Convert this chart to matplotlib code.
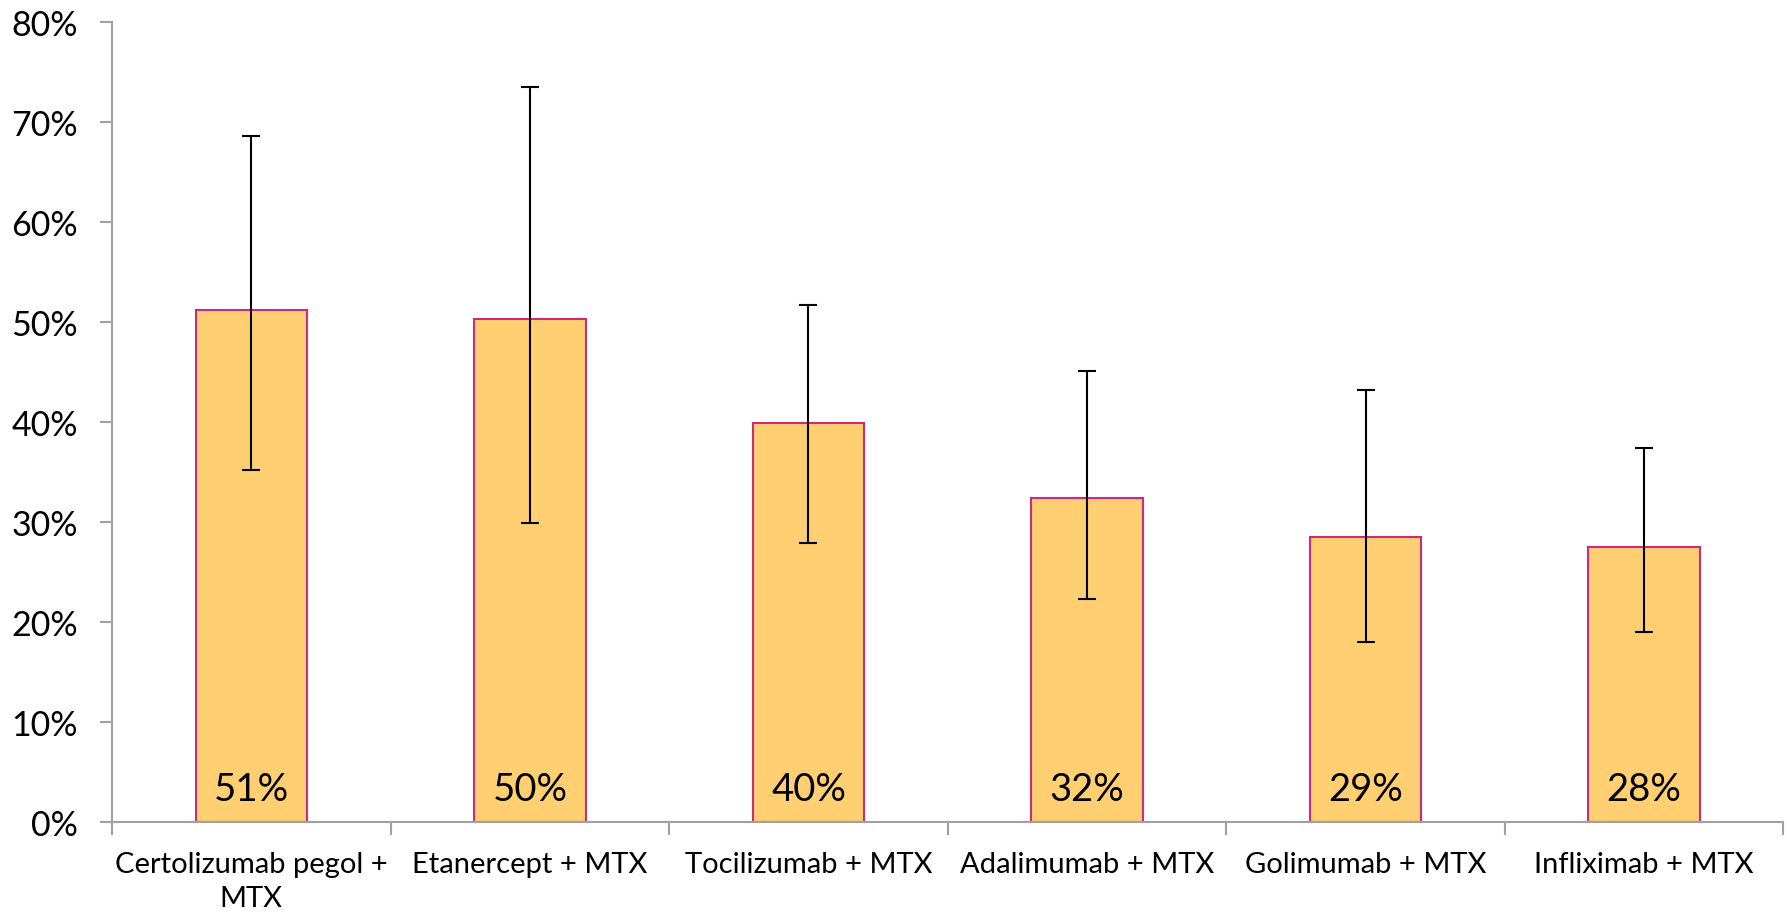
import numpy as np
import matplotlib
matplotlib.use('Agg')
import matplotlib.pyplot as plt
from matplotlib.ticker import FuncFormatter, FixedLocator

# data (percent)
drugs = ['Certolizumab pegol +\nMTX', 'Etanercept + MTX', 'Tocilizumab + MTX',
         'Adalimumab + MTX', 'Golimumab + MTX', 'Infliximab + MTX']
response = [51.2, 50.3, 39.9, 32.4, 28.5, 27.5]
ci_low = [35.2, 29.9, 27.9, 22.3, 18.0, 19.0]
ci_high = [68.6, 73.5, 51.7, 45.1, 43.2, 37.4]
bar_labels = ['51%', '50%', '40%', '32%', '29%', '28%']

plt.rcParams['font.family'] = ['Lato', 'DejaVu Sans']

fig = plt.figure(figsize=(17.87, 9.2), dpi=100)
ax = fig.add_axes([0.0627, 0.1054, 0.9353, 0.8696])

x = np.arange(len(drugs))
resp = np.array(response)
yerr = np.array([resp - np.array(ci_low), np.array(ci_high) - resp])

ax.bar(x, resp, width=0.4, color='#FFCF71', edgecolor='#CC2A7F', linewidth=1.5, zorder=2)
ax.errorbar(x, resp, yerr=yerr, fmt='none', ecolor='black', elinewidth=1.5,
            capsize=6.5, capthick=1.5, zorder=3)

for xi, lab in zip(x, bar_labels):
    ax.annotate(lab, (xi, 0), xytext=(0, 11), textcoords='offset points',
                ha='center', va='bottom', fontsize=27.5)

ax.set_xlim(-0.5, len(drugs) - 0.5)
ax.set_ylim(0, 80)
ax.set_yticks(np.arange(0, 81, 10))
ax.yaxis.set_major_formatter(FuncFormatter(lambda v, p: '%d%%' % v))

ax.set_xticks(x)
ax.set_xticklabels(drugs, fontsize=21, linespacing=1.35)
ax.xaxis.set_minor_locator(FixedLocator(np.arange(-0.5, len(drugs), 1.0)))
ax.tick_params(axis='x', which='major', length=0, pad=21)
ax.tick_params(axis='x', which='minor', length=9, width=1.5, color='#A0A0A0', direction='out')
ax.tick_params(axis='y', length=8.5, width=1.5, color='#A0A0A0', direction='out',
               labelsize=24.5, pad=16)

for side in ['top', 'right']:
    ax.spines[side].set_visible(False)
for side in ['left', 'bottom']:
    ax.spines[side].set_color('#A0A0A0')
    ax.spines[side].set_linewidth(1.5)

plt.savefig('out.png', dpi=100)
